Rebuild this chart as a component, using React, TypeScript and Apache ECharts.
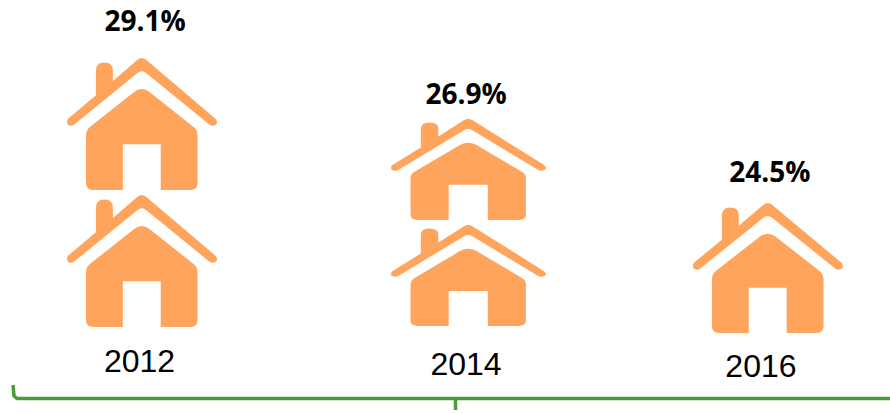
import React, { useEffect, useRef } from "react";
import * as echarts from "echarts";

const years = ["2012", "2014", "2016"];
const shares = ["29.1%", "26.9%", "24.5%"];
const houseCounts = [2, 2, 1];

// layout per column (pixels / factors), kept apart from the values
const columnDx = [-6.3, 23.5, 26.3];
const baseDy = [0, -1, 6];
const houseWidth = [150, 155, 150];
const stepScale = [1, 0.774, 0.985];
const houseGap = [5, 5, 5];
const shareDx = [3, -2.5, 2];
const shareGap = [38, 26, 32];
const yearDx = [-2.5, -2.5, -7];
const yearDy = [34, 37, 39];

const HOUSE_PATH =
  "M1 61 L29 38 L29 14 Q29 6 37.5 6 Q46 6 46 14 L46 24 L71 3 Q75 0 79 3 L149 61 Q152 65 149 67 Q146 69 143 67 L79 16 Q75 13 71 16 L7 67 Q4 69 1 67 Q-1 64 1 61 Z " +
  "M75 32 Q79 32 83 35 L128 70 Q131 73 131 77 L131 124 Q131 131 124 131 L94 131 L94 86 L56 86 L56 131 L26 131 Q19 131 19 124 L19 77 Q19 73 22 70 L67 35 Q71 32 75 32 Z";

const ORANGE = "#FFA45C";
const GREEN = "#4D9A3A";

export default function App() {
  const ref = useRef<HTMLDivElement>(null);
  useEffect(() => {
    document.body.style.margin = "0";
    const chart = echarts.init(ref.current!, null, { renderer: "svg" });
    chart.setOption({
      animation: false,
      backgroundColor: "#ffffff",
      grid: { left: 0, width: 890, top: 53, bottom: 86 },
      xAxis: { type: "category", data: years, show: false },
      yAxis: { type: "value", min: 0, max: 2, show: false },
      series: [
        {
          type: "custom",
          silent: true,
          clip: false,
          data: years.map((_, i) => [i, houseCounts[i]]),
          encode: { x: 0, y: 1 },
          renderItem: (_params: any, api: any) => {
            const idx = api.value(0) as number;
            const count = api.value(1) as number;
            const w = houseWidth[idx];
            const children: any[] = [];
            let topY = 0;
            for (let level = 0; level < count; level++) {
              const bottom = api.coord([idx, level * stepScale[idx]]);
              const top = api.coord([idx, (level + 1) * stepScale[idx]]);
              const cx = bottom[0] + columnDx[idx];
              const yBottom = bottom[1] + baseDy[idx];
              const yTop = top[1] + baseDy[idx] + houseGap[idx];
              topY = yTop;
              children.push({
                type: "path",
                shape: {
                  pathData: HOUSE_PATH,
                  layout: "cover",
                  x: cx - w / 2,
                  y: yTop,
                  width: w,
                  height: yBottom - yTop,
                },
                style: { fill: ORANGE },
              });
            }
            const base = api.coord([idx, 0]);
            children.push({
              type: "text",
              style: {
                text: shares[idx],
                x: base[0] + columnDx[idx] + shareDx[idx],
                y: topY - shareGap[idx],
                align: "center",
                verticalAlign: "middle",
                font: 'bold 28px "Open Sans", sans-serif',
                fill: "#000000",
              },
            });
            children.push({
              type: "text",
              style: {
                text: years[idx],
                x: base[0] + columnDx[idx] + yearDx[idx],
                y: base[1] + yearDy[idx],
                align: "center",
                verticalAlign: "middle",
                font: '32px "Liberation Sans", sans-serif',
                fill: "#000000",
              },
            });
            return { type: "group", children };
          },
        },
      ],
      graphic: [
        {
          type: "polyline",
          silent: true,
          shape: { points: [[13, 385], [14, 396], [17, 398.5], [890, 398.5]] },
          style: { stroke: GREEN, lineWidth: 3.5, fill: "none", lineJoin: "round" },
        },
        {
          type: "line",
          silent: true,
          shape: { x1: 455.5, y1: 398, x2: 455.5, y2: 410 },
          style: { stroke: GREEN, lineWidth: 3.5 },
        },
      ],
    });
    return () => chart.dispose();
  }, []);
  return <div ref={ref} style={{ width: 890, height: 413 }} />;
}
